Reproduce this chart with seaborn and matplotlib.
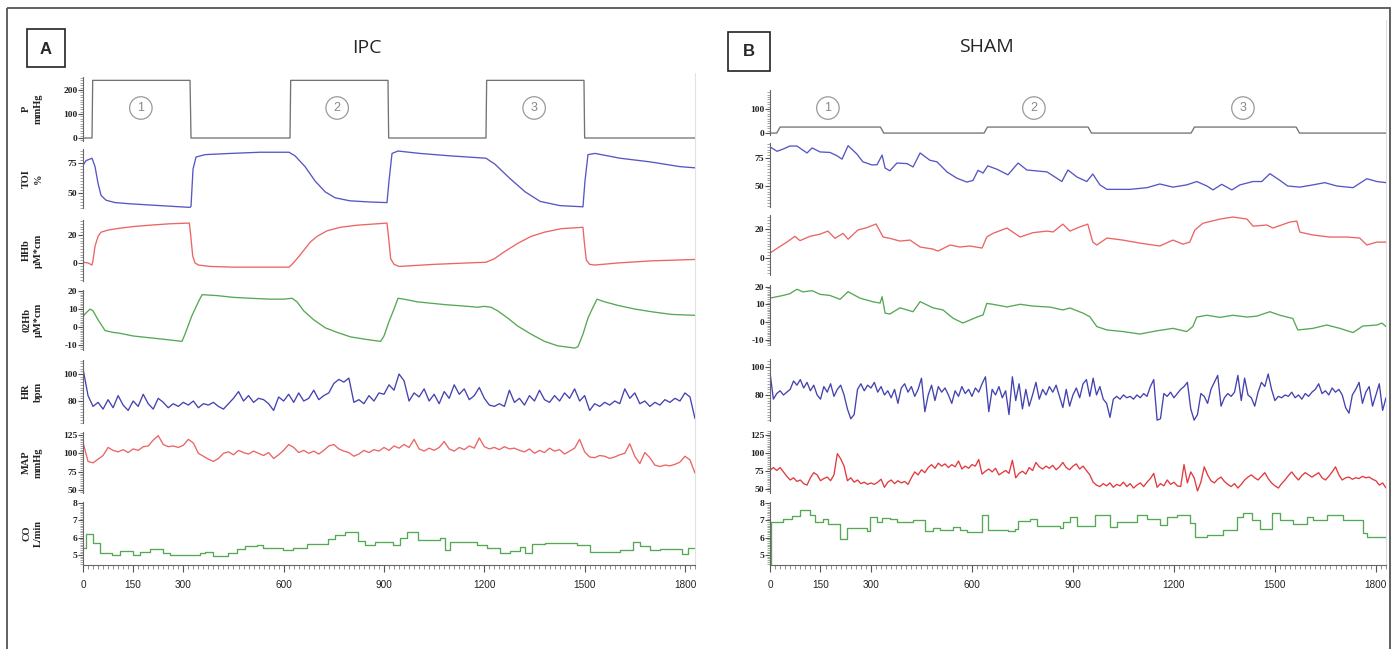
import numpy as np
import matplotlib
matplotlib.use("Agg")
import matplotlib.pyplot as plt
from matplotlib.patches import Rectangle
from matplotlib.ticker import MultipleLocator
import seaborn as sns

sns.set_style("white")
plt.rcParams["font.family"] = ["Liberation Sans", "DejaVu Sans"]

# ================= A : IPC =================
# cuff pressure (mmHg)
ipc_p_t = [0, 27, 29, 320, 323, 619, 621, 912, 914, 1205, 1207, 1498, 1500, 1830]
ipc_p = [0, 0, 240, 240, 0, 0, 240, 240, 0, 0, 240, 240, 0, 0]

# TOI (%)
ipc_toi_t = [0, 9, 27, 36, 45, 54, 69, 96, 141, 200, 260, 320, 323, 329, 338, 365, 440, 529, 616,
             634, 664, 694, 724, 754, 798, 858, 909, 915, 924, 942, 1008, 1097, 1205, 1232, 1277,
             1322, 1367, 1426, 1495, 1501, 1510, 1531, 1606, 1695, 1785, 1830]
ipc_toi = [73, 77, 79, 72, 58, 48, 44, 42, 41, 40, 39, 38, 39, 70, 80, 82, 83, 84, 84,
           81, 72, 60, 51, 46, 43.5, 42.5, 42, 60, 83, 85, 83, 81, 79, 74, 62,
           51, 43, 39.5, 38.5, 60, 82, 83, 79, 76, 72, 71]

# HHb (uM*cm)
ipc_hhb_t = [0, 15, 27, 30, 36, 45, 54, 75, 100, 150, 200, 260, 318, 322, 328, 335, 345, 380, 450,
             550, 616, 625, 640, 660, 680, 700, 730, 770, 820, 880, 909, 913, 920, 930, 945, 980,
             1050, 1150, 1205, 1230, 1260, 1300, 1340, 1380, 1430, 1495, 1499, 1505, 1515, 1530,
             1600, 1700, 1830]
ipc_hhb = [0.5, 0, -1.5, 2, 12, 19, 22, 23.5, 24.5, 26, 27, 28, 28.5, 20, 5, 0, -1.5, -2.5, -3,
           -3, -3, -1, 3, 9, 15, 19, 23, 25.5, 27, 28, 28.5, 20, 3, -1, -2.5, -2,
           -1, 0, 0.5, 3, 8, 14, 19, 22, 24.5, 25.5, 15, 2, -1, -1.5,
           0, 1.5, 2.5]

# O2Hb (uM*cm)
ipc_o2hb_t = [0, 10, 21, 30, 45, 66, 90, 111, 150, 200, 250, 296, 305, 315, 325, 335, 345, 356,
              400, 450, 500, 560, 600, 625, 640, 660, 690, 725, 760, 800, 850, 890, 900, 915,
              930, 942, 960, 1000, 1080, 1150, 1180, 1200, 1220, 1240, 1270, 1300, 1340, 1380,
              1420, 1470, 1480, 1495, 1510, 1525, 1537, 1560, 1600, 1650, 1700, 1760, 1830]
ipc_o2hb = [6, 8, 10, 9, 4, -2, -3, -3.5, -5, -6, -7, -8, -4, 1, 6, 10, 14, 18,
            17.5, 16.5, 16, 15.5, 15.5, 16, 14, 9, 4, -0.5, -3, -5.5, -7, -8, -5, 3,
            10, 16, 15.5, 14, 12.5, 11.5, 11, 11.5, 11, 9, 5, 0.5, -4, -8,
            -10.5, -11.7, -11, -4, 5, 11, 15.5, 14, 12, 10, 8.5, 7, 6.5]

# HR (bpm), one reading every 15 s
ipc_hr = [104, 84, 76, 79, 74, 81, 75, 84, 77, 73, 80, 76, 85, 78, 74, 82, 79,
          75, 78, 76, 79, 77, 80, 75, 78, 77, 79, 76, 74, 78,
          82, 87, 80, 84, 79, 82, 81, 78, 73, 83, 80,
          85, 79, 86, 80, 82, 88, 81, 84, 86,
          93, 96, 94, 97,
          79, 81, 78, 84, 80, 86, 85,
          92, 88, 100, 95, 80, 86, 83,
          89, 80, 85, 78, 87, 82, 92,
          85, 89, 81, 84, 90, 82, 77, 76,
          78, 76, 88, 79, 82, 77, 84, 80,
          88, 81, 79, 84, 80, 86, 82, 89, 80, 84,
          73, 78, 76, 79, 77, 80, 78,
          89, 82, 86, 78, 80, 76, 79, 77,
          81, 79, 82, 80, 86, 83, 67]

# MAP (mmHg), one reading every 15 s
ipc_map = [115, 89, 87, 92, 97, 108, 104, 102, 105, 101,
           106, 104, 109, 110, 118, 124, 112, 109, 110, 108,
           111, 119, 114, 100, 96, 92, 89, 93, 100, 102,
           98, 104, 101, 99, 103, 100, 97, 101, 93, 98,
           104, 112, 108, 101, 104, 100, 103, 99, 104, 110,
           112, 106, 103, 101, 96, 99, 104, 101, 105, 103,
           108, 104, 110, 107, 112, 108, 119, 106, 103, 107,
           104, 108, 116, 106, 103, 108, 105, 110, 107, 121,
           109, 106, 108, 105, 109, 106, 107, 104, 102, 106,
           100, 104, 101, 107, 103, 105, 99, 103, 107, 119,
           102, 95, 94, 97, 96, 93, 95, 98, 100, 113,
           96, 86, 101, 94, 84, 82, 84, 83, 85, 88,
           96, 91, 73]

# CO (L/min), step values
ipc_co_t = [0, 9, 30, 51, 87, 111, 150, 170, 200, 239, 260, 350, 365, 389, 434, 460, 484, 520,
            538, 598, 628, 670, 733, 754, 783, 822, 843, 873, 927, 948, 969, 1002, 1067, 1082,
            1097, 1178, 1208, 1247, 1277, 1307, 1322, 1343, 1381, 1477, 1516, 1606, 1644, 1665,
            1695, 1725, 1791, 1809, 1830]
ipc_co = [5.4, 6.2, 5.7, 5.1, 5.0, 5.25, 5.0, 5.2, 5.35, 5.1, 5.0, 5.1, 5.2, 4.95, 5.1, 5.35, 5.5, 5.6,
          5.4, 5.3, 5.4, 5.65, 5.9, 6.15, 6.35, 5.8, 5.55, 5.75, 5.6, 6.0, 6.3, 5.85, 6.0, 5.3,
          5.75, 5.6, 5.4, 5.1, 5.25, 5.45, 5.1, 5.65, 5.7, 5.6, 5.2, 5.3, 5.75, 5.5,
          5.3, 5.35, 5.05, 5.4, 5.4]

# ================= B : SHAM =================
sham_p_t = [0, 20, 30, 328, 338, 636, 646, 945, 955, 1251, 1261, 1563, 1573, 1830]
sham_p = [0, 0, 25, 25, 0, 0, 25, 25, 0, 0, 25, 25, 0, 0]

sham_toi_t = [0, 21, 39, 59, 80, 110, 125, 149, 178, 199, 214, 232, 258, 276, 303, 318, 333, 342,
              356, 377, 407, 425, 446, 475, 496, 526, 555, 585, 603, 618, 633, 647, 674, 707,
              737, 763, 823, 867, 885, 912, 941, 959, 980, 1001, 1069, 1120, 1158, 1197, 1238,
              1268, 1298, 1316, 1342, 1372, 1396, 1435, 1461, 1485, 1515, 1538, 1574, 1613,
              1648, 1684, 1732, 1773, 1803, 1830]
sham_toi = [85, 81, 83, 85.7, 85.7, 79.5, 84, 80.4, 80, 77, 74, 86, 78.6, 71.6, 68.8, 69, 77.6, 66,
            63.6, 70.5, 70, 67, 79.5, 73, 71.6, 62.5, 57, 53.5, 55, 64, 61.6, 68, 65, 60,
            70.5, 64.3, 62.6, 54, 64.3, 58, 54, 60.7, 51, 47, 47, 48.5, 51.8, 49, 51,
            54, 50, 46.5, 51.5, 46.5, 51, 54, 54, 61, 55, 50, 49, 51,
            53, 50, 48.5, 56.5, 54, 53]

sham_hhb_t = [0, 21, 50, 74, 89, 119, 149, 172, 193, 217, 232, 261, 288, 315, 336, 356, 386, 416,
              446, 484, 499, 535, 564, 594, 630, 644, 662, 704, 743, 781, 823, 841, 870, 891,
              921, 944, 959, 971, 1001, 1048, 1099, 1158, 1197, 1227, 1247, 1262, 1286, 1337,
              1375, 1417, 1435, 1476, 1494, 1544, 1565, 1574, 1613, 1663, 1714, 1752, 1773,
              1803, 1830]
sham_hhb = [3.4, 6.7, 11, 15, 12, 15, 16.5, 18.6, 13.6, 17, 13, 19.3, 21, 23.5, 14.5, 13.6, 11.7, 12.4,
            7.6, 6.2, 4.8, 9, 7.6, 8.3, 6.9, 14.5, 17, 20.7, 14.5, 17.5, 18.6, 18, 23.4, 18.6,
            21.5, 23.4, 11, 9, 13.8, 12.4, 10.3, 8.3, 12.4, 9.6, 11, 19.3, 24, 26.9,
            28.3, 26.9, 22, 22.8, 20.7, 24.8, 25.5, 17.9, 15.9, 14.5, 14.5, 13.8, 9,
            11, 11]

sham_o2hb_t = [0, 21, 39, 59, 80, 98, 125, 149, 178, 208, 232, 267, 306, 327, 333, 342, 356, 386,
               425, 446, 484, 514, 544, 573, 594, 615, 633, 644, 662, 704, 743, 781, 832, 870,
               891, 930, 950, 971, 1001, 1048, 1099, 1149, 1197, 1238, 1256, 1268, 1298, 1337,
               1375, 1417, 1446, 1485, 1515, 1553, 1568, 1613, 1654, 1693, 1732, 1761, 1803,
               1818, 1830]
sham_o2hb = [13.5, 14.3, 15, 16, 18.5, 17, 17.7, 15.6, 15, 12.8, 17.1, 13.5, 11.4, 10.7, 14.3, 5, 4.5, 8,
             5.8, 11.5, 8, 6.8, 2.1, -0.6, 1.1, 2.8, 4, 10.5, 10, 8.5, 10, 9, 8.4, 6.8,
             7.9, 5, 3, -2.6, -4.5, -5.4, -6.8, -5, -3.6, -5.4, -2.6, 2.8, 3.8, 2.6,
             3.8, 2.8, 3.3, 5.8, 3.8, 2, -4.5, -3.6, -1.7, -3.6, -6, -2.3, -1.7,
             -0.6, -2.6]

# HR (bpm), one reading every 10 s
sham_hr = [96, 77, 81, 83, 80, 82, 84, 90, 87, 91,
           85, 89, 83, 87, 80, 77, 86, 82, 88, 79,
           84, 87, 80, 70, 63, 66, 84, 88, 83, 87,
           85, 89, 82, 86, 80, 83, 78, 84, 74, 85,
           88, 82, 86, 79, 84, 92, 68, 80, 87, 76,
           86, 82, 85, 80, 74, 83, 79, 86, 81, 84,
           79, 85, 82, 88, 93, 68, 84, 80, 86, 78,
           83, 66, 93, 76, 88, 70, 84, 72, 80, 89,
           77, 84, 80, 86, 82, 87, 79, 71, 84, 72,
           80, 85, 78, 88, 91, 79, 92, 80, 86, 77,
           74, 64, 77, 79, 77, 80, 78, 79, 77, 80,
           78, 81, 79, 86, 91, 62, 63, 81, 79, 82,
           78, 81, 84, 86, 89, 70, 62, 66, 81, 79,
           74, 84, 89, 94, 72, 78, 81, 79, 82, 94,
           76, 92, 80, 78, 72, 82, 89, 86, 95, 84,
           76, 79, 78, 80, 79, 82, 78, 80, 77, 81,
           79, 82, 84, 88, 81, 83, 80, 85, 82, 84,
           80, 71, 67, 80, 84, 89, 74, 82, 86, 72,
           80, 88, 69, 78]

# MAP (mmHg), one reading every 10 s
sham_map = [76, 80, 76, 80, 74, 68, 63, 66, 61, 63,
            58, 56, 66, 73, 70, 62, 65, 67, 62, 70,
            99, 92, 82, 62, 66, 60, 63, 58, 60, 57,
            59, 57, 60, 64, 53, 60, 63, 58, 62, 59,
            61, 57, 66, 74, 70, 77, 73, 80, 84, 79,
            86, 82, 85, 80, 84, 81, 89, 78, 82, 79,
            84, 82, 91, 71, 75, 78, 74, 79, 70, 73,
            76, 72, 90, 66, 72, 75, 71, 80, 76, 87,
            81, 78, 82, 79, 83, 77, 81, 87, 80, 77,
            82, 85, 78, 82, 76, 70, 60, 56, 54, 58,
            55, 59, 53, 57, 55, 60, 54, 58, 52, 56,
            59, 54, 60, 65, 72, 53, 58, 55, 63, 57,
            60, 55, 54, 84, 59, 74, 66, 48, 60, 81,
            70, 62, 59, 64, 67, 61, 57, 54, 58, 52,
            57, 63, 67, 70, 66, 63, 68, 73, 65, 59,
            55, 52, 58, 63, 69, 74, 68, 63, 69, 73,
            70, 67, 70, 73, 66, 63, 68, 74, 81, 70,
            63, 66, 67, 64, 66, 65, 68, 66, 67, 64,
            62, 56, 59, 52]

sham_co_t = [0, 3, 39, 65, 89, 119, 134, 157, 172, 208, 229, 288, 297, 318, 333, 356, 377, 425,
             460, 484, 505, 544, 564, 585, 630, 647, 707, 728, 737, 772, 793, 861, 870, 891,
             912, 965, 1010, 1031, 1090, 1120, 1158, 1179, 1209, 1247, 1262, 1298, 1345, 1387,
             1405, 1432, 1455, 1491, 1515, 1553, 1595, 1613, 1654, 1702, 1761, 1773, 1830]
sham_co = [4.5, 6.9, 7.05, 7.25, 7.6, 7.3, 6.9, 7.1, 6.8, 5.95, 6.55, 6.4, 7.2, 6.9, 7.15, 7.05, 6.9, 7.0,
           6.4, 6.55, 6.45, 6.6, 6.45, 6.3, 7.3, 6.45, 6.4, 6.5, 6.95, 7.05, 6.7, 6.55, 6.9, 7.2,
           6.65, 7.3, 6.6, 6.9, 7.3, 7.1, 6.75, 7.2, 7.3, 6.85, 6.05, 6.15, 6.45, 7.2,
           7.45, 7.0, 6.5, 7.45, 7.0, 6.8, 7.2, 7.0, 7.3, 7.0, 6.25, 6.05, 6.05]

cycle_labels = ["1", "2", "3"]
ipc_cycle_mid = [173, 760, 1349]
sham_cycle_mid = [172, 784, 1405]

ylabels = ["P\nmmHg", "TOI\n%", "HHb\nµM*cm", "02Hb\nµM*cm", "HR\nbpm", "MAP\nmmHg", "CO\nL/min"]

# ---------------- layout (pixels) ----------------
W, H = 1397, 649
fig = plt.figure(figsize=(W / 100, H / 100), dpi=100)

bg = fig.add_axes([0, 0, 1, 1])
bg.set_xlim(0, W)
bg.set_ylim(H, 0)
bg.axis("off")
bg.add_patch(Rectangle((7, 8), 1383, 700, fill=False, ec="#555555", lw=1.3))
bg.add_patch(Rectangle((27, 29), 38, 38, fill=False, ec="#222222", lw=1.2))
bg.add_patch(Rectangle((728, 32), 42, 39, fill=False, ec="#222222", lw=1.2))
bg.text(46, 49, "A", ha="center", va="center", fontsize=12, fontweight="bold")
bg.text(749, 52, "B", ha="center", va="center", fontsize=12, fontweight="bold")
bg.text(367, 48, "IPC", ha="center", va="center", fontsize=14, family="Open Sans")
bg.text(986, 47, "SHAM", ha="center", va="center", fontsize=14, family="Open Sans")
bg.plot([695, 695], [73, 566], color="#e2e2e2", lw=0.8)
bg.plot([1386, 1386], [20, 566], color="#dddddd", lw=0.8)

rows_a = [(77, 141), (149, 208), (220, 281), (290, 350), (360, 423), (432, 493), (502, 565)]
rows_b = [(90, 135), (143, 207), (215, 275), (285, 345), (359, 421), (431, 493), (502, 565)]

ylims_a = [(-12.5, 254), (37.5, 86.7), (-12.9, 30.7), (-12.8, 20.6), (63.7, 110.4), (46, 129), (4.42, 8.06)]
ylims_b = [(-8, 179), (31.25, 88.4), (-11.7, 29.7), (-13, 20.9), (61.4, 105.7), (45.2, 130), (4.42, 8.06)]

yticks_a = [[0, 100, 200], [50, 75], [0, 20], [-10, 0, 10, 20], [80, 100], [50, 75, 100, 125], [5, 6, 7, 8]]
yticks_b = [[0, 100], [50, 75], [0, 20], [-10, 0, 10, 20], [80, 100], [50, 75, 100, 125], [5, 6, 7, 8]]
minors = [10, 2.5, 2, 1, 2, 2.5, 0.1]

GRAY, BLUE, RED, GREEN = "#737373", "#5656c4", "#ec6464", "#55a855"
BLUE_D, RED_D = "#4343b0", "#e23a3e"

traces_a = [
    (ipc_p_t, ipc_p, GRAY, "default"),
    (ipc_toi_t, ipc_toi, BLUE, "default"),
    (ipc_hhb_t, ipc_hhb, RED, "default"),
    (ipc_o2hb_t, ipc_o2hb, GREEN, "default"),
    (np.arange(len(ipc_hr)) * 15, ipc_hr, BLUE_D, "default"),
    (np.arange(len(ipc_map)) * 15, ipc_map, RED, "default"),
    (ipc_co_t, ipc_co, GREEN, "steps-post"),
]
traces_b = [
    (sham_p_t, sham_p, GRAY, "default"),
    (sham_toi_t, sham_toi, BLUE, "default"),
    (sham_hhb_t, sham_hhb, RED, "default"),
    (sham_o2hb_t, sham_o2hb, GREEN, "default"),
    (np.arange(len(sham_hr)) * 10, sham_hr, BLUE_D, "default"),
    (np.arange(len(sham_map)) * 10, sham_map, RED_D, "default"),
    (sham_co_t, sham_co, GREEN, "steps-post"),
]

XT = [0, 150, 300, 600, 900, 1200, 1500, 1800]


def panel(x0, x1, rows, ylims, yticks, traces, cycle_mid, cycle_y, with_labels):
    axes = []
    for k, ((y0, y1), yl, yt, (t, v, c, ds)) in enumerate(zip(rows, ylims, yticks, traces)):
        ax = fig.add_axes([x0 / W, 1 - y1 / H, (x1 - x0) / W, (y1 - y0) / H])
        ax.patch.set_alpha(0)
        sns.lineplot(x=t, y=v, ax=ax, color=c, linewidth=0.95, estimator=None,
                     sort=False, drawstyle=ds)
        ax.set_xlim(0, 1830)
        ax.set_ylim(*yl)
        for s in ["top", "right", "bottom"]:
            ax.spines[s].set_visible(False)
        ax.spines["left"].set_color("#666666")
        ax.spines["left"].set_linewidth(0.8)
        ax.set_yticks(yt, labels=[str(n) for n in yt], fontfamily="Liberation Serif",
                      fontweight="bold", fontsize=6.8, color="#222222")
        ax.yaxis.set_minor_locator(MultipleLocator(minors[k]))
        ax.tick_params(axis="y", which="major", left=True, length=3.5, width=0.8,
                       color="#555555", pad=0.5)
        ax.tick_params(axis="y", which="minor", left=True, length=2.2, width=0.5,
                       color="#808080")
        ax.set_xlabel("")
        if with_labels:
            ax.set_ylabel(ylabels[k], fontfamily="Liberation Serif", fontweight="bold",
                          fontsize=7.5, linespacing=1.35, color="#222222")
            ax.yaxis.set_label_coords(-0.066, 0.5)
        else:
            ax.set_ylabel("")
        if k == len(rows) - 1:
            ax.spines["bottom"].set_visible(True)
            ax.spines["bottom"].set_color("#666666")
            ax.spines["bottom"].set_linewidth(0.8)
            ax.set_xticks(XT, labels=[str(n) for n in XT], fontsize=7.2, color="#222222")
            ax.xaxis.set_minor_locator(MultipleLocator(15))
            ax.tick_params(axis="x", which="major", bottom=True, length=5, width=0.8,
                           color="#555555", pad=6)
            ax.tick_params(axis="x", which="minor", bottom=True, length=3, width=0.6,
                           color="#808080")
        else:
            ax.set_xticks([])
            ax.tick_params(axis="x", which="both", bottom=False, labelbottom=False)
        axes.append(ax)
    for lab, tm in zip(cycle_labels, cycle_mid):
        axes[0].text(tm, cycle_y, lab, ha="center", va="center", fontsize=9, color="#888888",
                     bbox=dict(boxstyle="circle,pad=0.42", fc="white", ec="#9a9a9a", lw=0.9))
    return axes


panel(83, 695, rows_a, ylims_a, yticks_a, traces_a, ipc_cycle_mid, 125, True)
panel(770, 1386, rows_b, ylims_b, yticks_b, traces_b, sham_cycle_mid, 104, False)

fig.savefig("out.png", dpi=100)
